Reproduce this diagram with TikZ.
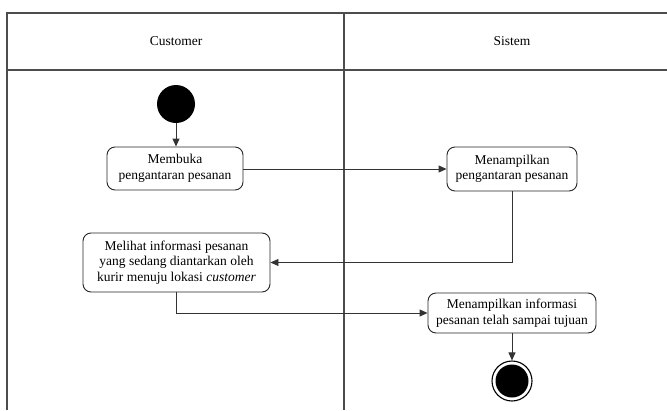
\documentclass[tikz,border=0pt]{standalone}
\usepackage{fontspec}
\setmainfont{Liberation Serif}
\usetikzlibrary{arrows.meta,positioning}
\tikzset{
  lane/.style={draw=black!70, line width=1.1pt},
  action/.style={draw=black!85, line width=0.9pt, rounded corners=8pt, align=center,
    inner sep=0pt, font=\fontsize{13.5}{15.5}\selectfont, text=black},
  flow/.style={draw=black!80, line width=0.9pt, -{Triangle[length=8pt,width=7pt]}},
  startdot/.style={circle, fill=black, minimum size=38pt, inner sep=0pt},
  enddot/.style={circle, draw=black, line width=1.1pt, fill=white, minimum size=40pt, inner sep=0pt,
    path picture={\fill[black] (path picture bounding box.center) circle (16.5pt);}},
  lanetitle/.style={font=\fontsize{13.5}{15.5}\selectfont}
}
\begin{document}
\begin{tikzpicture}[x=1pt,y=-1pt]
  \useasboundingbox (0,0) rectangle (667,410);
  % swimlane frame
  \draw[lane] (7,410) -- (7,13) -- (667,13);
  \draw[lane] (7,70) -- (667,70);
  \draw[lane] (344,13) -- (344,410);
  \node[lanetitle] (lcust) at (176,41) {Customer};
  \node[lanetitle] (lsys) at (512,41) {Sistem};

  % activities
  \node[startdot] (start) at (176,104) {};
  \node[action, minimum width=136pt, minimum height=43pt] (b1) at (175,168.5)
    {Membuka\\pengantaran pesanan};
  \node[action, minimum width=130pt, minimum height=44pt] (b2) at (512,169)
    {Menampilkan\\pengantaran pesanan};
  \node[action, minimum width=187pt, minimum height=59pt] (b3) at (176.5,262.5)
    {Melihat informasi pesanan\\yang sedang diantarkan oleh\\kurir menuju lokasi \textit{customer}};
  \node[action, minimum width=168pt, minimum height=40pt] (b4) at (512,313)
    {Menampilkan informasi\\pesanan telah sampai tujuan};
  \node[enddot] (stop) at (512,381) {};

  % control flow
  \draw[flow] (start) -- (start |- b1.north);
  \draw[flow] (b1.east |- 0,169) -- (b2.west |- 0,169);
  \draw[flow] (b2.south) |- (b3.east);
  \draw[flow] (b3.south) |- (b4.west);
  \draw[flow] (b4.south) -- (stop.north);
\end{tikzpicture}
\end{document}
